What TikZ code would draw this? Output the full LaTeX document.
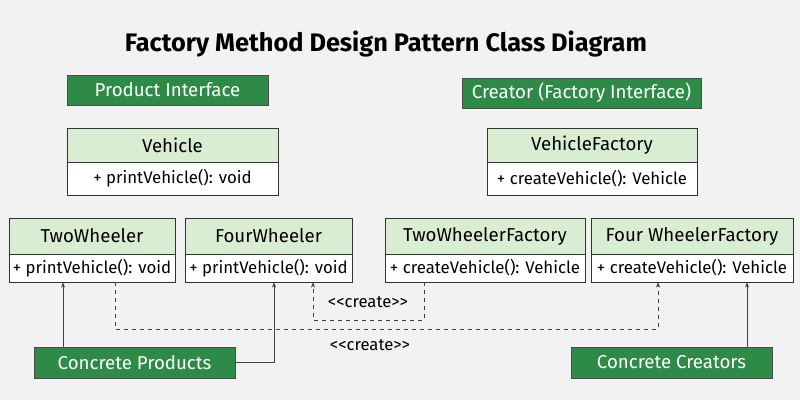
\documentclass[tikz,border=0pt]{standalone}
\usepackage{fontspec}
\setmainfont{Fira Sans}
\usetikzlibrary{arrows.meta}
\definecolor{dg}{HTML}{2E8B47}
\definecolor{lg}{HTML}{D9EDD3}
\definecolor{bg}{HTML}{F2F2F2}
\begin{document}
\begin{tikzpicture}[x=0.75pt,y=-0.75pt,
  lab/.style={fill=dg,draw=black!70,text=white,font=\fontsize{14}{16}\selectfont,inner sep=0pt},
  hd/.style={fill=lg,draw=black!80,font=\fontsize{14}{16}\selectfont,inner sep=0pt},
  bd/.style={fill=white,draw=black!80,font=\fontsize{12.6}{14}\selectfont,inner sep=0pt},
  con/.style={draw=black!75,-{Stealth[length=4pt,width=3pt]}},
  dcon/.style={con,dashed},
  txt/.style={font=\fontsize{12.5}{14}\selectfont}]
\fill[bg] (0,0) rectangle (800,400);
\useasboundingbox (0,0) rectangle (800,400);
\node[font=\bfseries\fontsize{19}{22}\selectfont] (title) at (386,44) {Factory Method Design Pattern Class Diagram};
\node[lab,minimum width=201*0.75pt,minimum height=30*0.75pt] (pi) at (167.5,90) {Product Interface};
\node[lab,minimum width=239*0.75pt,minimum height=30*0.75pt] (ci) at (581.5,93) {Creator (Factory Interface)};
\node[hd,minimum width=211*0.75pt,minimum height=34*0.75pt] (vh) at (172.5,145) {Vehicle};
\node[bd,minimum width=211*0.75pt,minimum height=33*0.75pt] (vb) at (172.5,178.5) {+ printVehicle(): void};
\node[hd,minimum width=210*0.75pt,minimum height=34*0.75pt] (fh) at (592,145) {VehicleFactory};
\node[bd,minimum width=210*0.75pt,minimum height=33*0.75pt] (fb) at (592,178.5) {+ createVehicle(): Vehicle};
\node[hd,minimum width=166*0.75pt,minimum height=36*0.75pt] (twh) at (92,236) {TwoWheeler};
\node[bd,minimum width=166*0.75pt,minimum height=28*0.75pt] (twb) at (92,268) {+ printVehicle(): void};
\node[hd,minimum width=167*0.75pt,minimum height=36*0.75pt] (fwh) at (268.5,236) {FourWheeler};
\node[bd,minimum width=167*0.75pt,minimum height=28*0.75pt] (fwb) at (268.5,268) {+ printVehicle(): void};
\node[hd,minimum width=200*0.75pt,minimum height=36*0.75pt] (tfh) at (485,236) {TwoWheelerFactory};
\node[bd,minimum width=200*0.75pt,minimum height=28*0.75pt] (tfb) at (485,268) {+ createVehicle(): Vehicle};
\node[hd,minimum width=202*0.75pt,minimum height=36*0.75pt] (ffh) at (692,236) {Four WheelerFactory};
\node[bd,minimum width=202*0.75pt,minimum height=28*0.75pt] (ffb) at (692,268) {+ createVehicle(): Vehicle};
\node[lab,minimum width=201*0.75pt,minimum height=31*0.75pt] (cp) at (134.5,362.5) {Concrete Products};
\node[lab,minimum width=201*0.75pt,minimum height=31*0.75pt] (cc) at (671.5,362.5) {Concrete Creators};
\node[txt] (c1) at (368,302) {<{}<create>{}>};
\node[txt] (c2) at (370,345) {<{}<create>{}>};
\draw[con] (cp.north -| 63,0) -- (twb.south -| 63,0);
\draw[con] (cp.east) -| (fwb.south -| 274,0);
\draw[con] (cc.north -| 747,0) -- (ffb.south -| 747,0);
\draw[dcon] (tfb.south -| 424,0) |- (313,320) -- (fwb.south -| 313,0);
\draw[dcon] (twb.south -| 115,0) |- (658,329) -- (ffb.south -| 658,0);
\end{tikzpicture}
\end{document}
